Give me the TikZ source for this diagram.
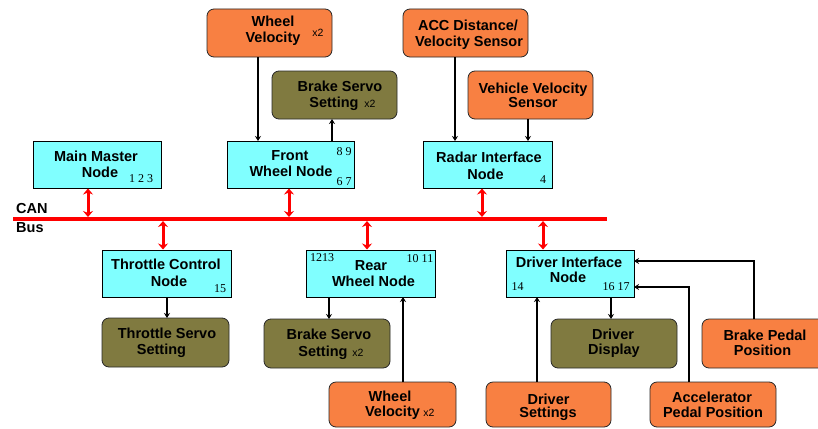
\documentclass[tikz,border=0pt]{standalone}
\usepackage{fontspec}
\setmainfont{Liberation Sans}
\newfontfamily\numfont{Liberation Serif}
\usetikzlibrary{arrows.meta}
\definecolor{sensor}{RGB}{248,128,66}
\definecolor{actuator}{RGB}{128,122,64}
\definecolor{ecu}{RGB}{128,255,255}
\definecolor{busred}{RGB}{255,0,0}
\definecolor{edge}{RGB}{40,40,40}
\tikzset{
  ecubox/.style={draw=black, line width=0.8pt, fill=ecu},
  sensbox/.style={draw=edge, line width=0.8pt, fill=sensor, rounded corners=7pt},
  actbox/.style={draw=edge, line width=0.8pt, fill=actuator, rounded corners=7pt},
  txt/.style={anchor=base, inner sep=0pt, font=\fontsize{14.5}{16}\selectfont\bfseries, text=black},
  num/.style={anchor=base, inner sep=0pt, font=\fontsize{12}{13}\selectfont\numfont, text=black},
  xtwo/.style={anchor=base, inner sep=0pt, font=\fontsize{10.5}{12}\selectfont, text=black},
  sig/.style={draw=black, line width=1.4pt, -{Stealth[length=5pt,width=6pt]}},
  canlink/.style={draw=busred, line width=3pt, {Stealth[length=6pt,width=10pt]}-{Stealth[length=6pt,width=10pt]}}
}
\begin{document}
\begin{tikzpicture}[x=1pt,y=-1pt]
\useasboundingbox (0,0) rectangle (818,428);
\clip (0,0) rectangle (818,428);
% boxes
\path[sensbox] (207,9) rectangle (332,57) node[pos=0.5,inner sep=0] (wvtop) {};
\path[actbox] (272,71) rectangle (397,119) node[pos=0.5,inner sep=0] (bstop) {};
\path[sensbox] (403,9) rectangle (528,57) node[pos=0.5,inner sep=0] (acc) {};
\path[sensbox] (468,71) rectangle (593,119) node[pos=0.5,inner sep=0] (vvs) {};
\path[ecubox] (33,141) rectangle (161,188) node[pos=0.5,inner sep=0] (mmn) {};
\path[ecubox] (227,141) rectangle (354,188) node[pos=0.5,inner sep=0] (fwn) {};
\path[ecubox] (423,141) rectangle (552,188) node[pos=0.5,inner sep=0] (rin) {};
\path[ecubox] (102,250) rectangle (231,297) node[pos=0.5,inner sep=0] (tcn) {};
\path[ecubox] (306,250) rectangle (435,297) node[pos=0.5,inner sep=0] (rwn) {};
\path[ecubox] (506,250) rectangle (634,297) node[pos=0.5,inner sep=0] (din) {};
\path[actbox] (102,318) rectangle (229,367) node[pos=0.5,inner sep=0] (tss) {};
\path[actbox] (264,319) rectangle (390,368) node[pos=0.5,inner sep=0] (bsbot) {};
\path[actbox] (551,319) rectangle (677,368) node[pos=0.5,inner sep=0] (dd) {};
\path[sensbox] (702,319) rectangle (830,368) node[pos=0.5,inner sep=0] (bpp) {};
\path[sensbox] (329,382) rectangle (456,427) node[pos=0.5,inner sep=0] (wvbot) {};
\path[sensbox] (486,382) rectangle (611,427) node[pos=0.5,inner sep=0] (ds) {};
\path[sensbox] (650,382) rectangle (776,427) node[pos=0.5,inner sep=0] (app) {};
% bus
\coordinate (busL) at (13,219);
\coordinate (busR) at (607,219);
\draw[busred, line width=4pt] (busL) -- (busR);
\node[txt, anchor=base west] (can) at (16,213) {CAN};
\node[txt, anchor=base west] (bus) at (16,232) {Bus};
% bus links
\coordinate (b1) at (88,217); \coordinate (b2) at (289,217); \coordinate (b3) at (482,217);
\coordinate (b4) at (163,221); \coordinate (b5) at (367,221); \coordinate (b6) at (543,221);
\draw[canlink] (88,188.5) -- (b1);
\draw[canlink] (289,188.5) -- (b2);
\draw[canlink] (482,188.5) -- (b3);
\draw[canlink] (b4) -- (163,249.5);
\draw[canlink] (b5) -- (367,249.5);
\draw[canlink] (b6) -- (543,249.5);
% signal connectors
\draw[sig] (258,57) -- (258,141);
\draw[sig] (332,141) -- (332,119);
\draw[sig] (455,57) -- (455,141);
\draw[sig] (528,119) -- (528,141);
\draw[sig] (167,297) -- (167,318);
\draw[sig] (329,297) -- (329,319);
\draw[sig] (403,382) -- (403,297);
\draw[sig] (611,297) -- (611,319);
\draw[sig] (537,382) -- (537,297);
\draw[sig] (754,319) -- (754,261) -- (634,261);
\draw[sig] (689,382) -- (689,287) -- (634,287);
% texts
\node[txt] (t1) at (273,27) {Wheel};
\node[txt] (t2) at (273,43) {Velocity};
\node[xtwo] (t3) at (318,37) {x2};
\node[txt] (t4) at (340,91) {Brake Servo};
\node[txt] (t5) at (334,107) {Setting};
\node[xtwo] (t6) at (370,107) {x2};
\node[txt] (t7) at (468,31) {ACC Distance/};
\node[txt] (t8) at (469,46) {Velocity Sensor};
\node[txt] (t9) at (533,93) {Vehicle Velocity};
\node[txt] (t10) at (533,107) {Sensor};
\node[txt] (t11) at (96,161) {Main Master};
\node[txt] (t12) at (100,177) {Node};
\node[num] (t13) at (141,182) {1 2 3};
\node[txt] (t14) at (290,160) {Front};
\node[txt] (t15) at (291,176) {Wheel Node};
\node[num] (t16) at (344,155) {8 9};
\node[num] (t17) at (344,185) {6 7};
\node[txt] (t18) at (489,162) {Radar Interface};
\node[txt] (t19) at (485.5,179) {Node};
\node[num] (t20) at (543,183) {4};
\node[txt] (t21) at (166,269) {Throttle Control};
\node[txt] (t22) at (169,286) {Node};
\node[num] (t23) at (220,292) {15};
\node[txt] (t24) at (167,338) {Throttle Servo};
\node[txt] (t25) at (161.5,354) {Setting};
\node[num] (t26) at (322,261) {1213};
\node[txt] (t27) at (371,270) {Rear};
\node[txt] (t28) at (373.5,286) {Wheel Node};
\node[num] (t29) at (420,262) {10 11};
\node[txt] (t30) at (329,339) {Brake Servo};
\node[txt] (t31) at (323,356) {Setting};
\node[xtwo] (t32) at (358,356) {x2};
\node[txt] (t33) at (390,401) {Wheel};
\node[txt] (t34) at (392.5,416) {Velocity};
\node[xtwo] (t35) at (429,416) {x2};
\node[txt] (t36) at (569,267) {Driver Interface};
\node[txt] (t37) at (568,282) {Node};
\node[num] (t38) at (517.5,290) {14};
\node[num] (t39) at (616,290) {16 17};
\node[txt] (t40) at (613,339) {Driver};
\node[txt] (t41) at (614,354) {Display};
\node[txt] (t42) at (765,340) {Brake Pedal};
\node[txt] (t43) at (762.5,355) {Position};
\node[txt] (t44) at (548.5,404) {Driver};
\node[txt] (t45) at (548,417) {Settings};
\node[txt] (t46) at (712,402) {Accelerator};
\node[txt] (t47) at (713,417) {Pedal Position};
\end{tikzpicture}
\end{document}
